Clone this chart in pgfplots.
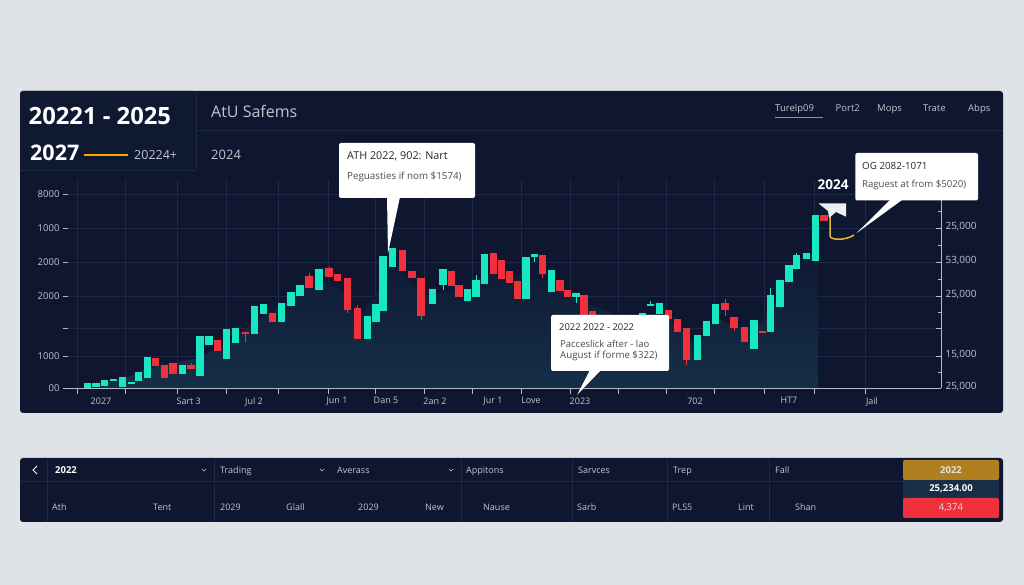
\documentclass[border=0pt]{standalone}
\usepackage{pgfplots}
\usepackage{pgfplotstable}
\pgfplotsset{compat=1.18}
\usepackage{fontspec}
\setmainfont{Open Sans}
\usetikzlibrary{calc}
\definecolor{page}{HTML}{DFE3E8}
\definecolor{panel}{HTML}{0E172F}
\definecolor{panelb}{HTML}{0F1932}
\definecolor{gridc}{HTML}{1E2A45}
\definecolor{axisc}{HTML}{B4BBC8}
\definecolor{upc}{HTML}{17E8C2}
\definecolor{downc}{HTML}{F0303A}
\definecolor{areac}{HTML}{162E48}
\definecolor{txt}{HTML}{BFC5D0}
\definecolor{goldc}{HTML}{B07F20}
\definecolor{yel}{HTML}{E6B93B}
% x, body low, body high, wick low, wick high
\pgfplotstableread{
x lo hi wl wh
87.3 0 5.3 0 5.3
96.0 0.7 4.7 0.7 4.7
104.7 2.3 8 2.3 8
113.7 6.7 9 6.7 9
122.7 1.3 10.7 1.3 10.7
131.3 4.3 6 4.3 6
138.3 7.3 16 7.3 16
147.3 10.3 31.3 10.3 31.3
182.3 14.3 22.7 14.3 22.7
200 12 51.7 12 51.7
209 43.3 52 43.3 52
226.7 29.3 58.7 29.3 58.7
235.7 45 59.7 45 59.7
254.3 53.7 82.3 53.7 82.3
263.3 74 84 74 84
281.7 66.3 85 66.3 85
291 82.3 96.3 82.3 96.3
300 91.7 103 91.7 103
319 97.7 119.3 97.7 119.3
367.3 49 71.7 49 71.7
376 65.7 83.7 65.7 83.7
383 76.7 132.3 76.7 132.3
392.3 121 139.7 121 139.7
432.3 84.3 98.7 84.3 98.7
443 103 118.7 98 118.7
467.3 86.7 99 86.7 99
476 90.7 108.3 90.7 113
484.7 104.3 134.3 104.3 134.3
526 89 131.3 89 131.3
534.3 131 133.7 126.3 133.7
551.3 96.3 118.3 96.3 118.3
576 90.7 94.7 85.3 94.7
642.3 60 74.7 60 74.7
650.7 81.7 83.7 81.7 87
659.3 73.7 85.3 73.7 85.3
697.3 28 53 28 53
706.7 51.7 66.7 51.7 66.7
715.7 64.3 84 64.3 84
754 39 68 39 68
770.7 56 93 56 99.7
780 80.7 108.3 80.7 108.3
789 106 123 106 123
796.7 118.7 132.7 118.7 135.3
806.7 128.7 135 128.7 135
815.3 127.3 172.7 127.3 172.7
}\upcandles
\pgfplotstableread{
x lo hi wl wh
155.7 21.7 29.7 21.7 29.7
164.3 10.3 22.7 10.3 22.7
173 13.7 25 13.7 25
191 19 23 19 24.5
217.7 37.3 47.7 37.3 47.7
245.3 53.7 56 46.3 56
272.3 65.7 74.7 65.7 74.7
309 100.3 111.7 100.3 114.7
329 111.3 120 111.3 121.3
337.7 106.7 113.7 106.7 113.7
347.3 78.3 110 74.7 110
357.3 49 80 49 83
402.7 117 137.7 117 137.7
412 110 116.7 110 116.7
421 71.7 110.3 68 110.3
451.3 102 117.3 102 117.3
459 91.3 103 91.3 103
493.3 114 134.7 114 134.7
501.7 109 128.3 109 128.3
509.7 105.3 117.3 105.3 117.3
517.3 89 106.7 89 106.7
542.7 114 133.3 110.3 133.3
560 96.7 108 96.7 108
567.7 90.7 97.7 90.7 97.7
584 72 92.7 72 92.7
592.3 63 77 63 77
668.7 68.7 78.3 68.7 78.3
677.7 56 69 56 69
686.7 28 59.7 23 59.7
725 78 84.7 72.3 88.7
734 60.3 71.3 57.3 71.3
744.7 45.7 60.7 45.7 60.7
762.7 55 57.3 55 57.3
824 167.3 173.3 167.3 173.3
}\downcandles
\pgfplotsset{candle/.style 2 args={draw=none,no marks,forget plot,
  error bars/.cd,y dir=plus,y explicit,error mark=none,error bar style={draw=#1,solid,line width=#2}}}
\begin{document}
\begin{tikzpicture}[x=1pt,y=1pt]
\fill[page] (0,0) rectangle (1024,585);
% panels
\fill[panel,rounded corners=3pt] (20,172) rectangle (1003,494);
\fill[panel,rounded corners=3pt] (20,63) rectangle (1003,127);
% header of the first panel
\fill[panelb,rounded corners=3pt] (20,414.5) rectangle (196,494);
\draw[gridc] (196,414.5) -- (196,494);
\draw[gridc] (20,414.5) -- (196,414.5);
\draw[gridc] (196,455) -- (1003,455);
\node[anchor=base west,inner sep=0,font=\fontsize{23.8}{28}\bfseries\selectfont,text=white] at (28.5,460.5) {20221 - 2025};
\node[anchor=base west,inner sep=0,font=\fontsize{21.5}{24}\bfseries\selectfont,text=white] at (30,424) {2027};
\draw[line width=1.4pt,color=orange!70!yellow] (84,430) -- (128,430);
\node[anchor=base west,inner sep=0,font=\fontsize{12.5}{14}\selectfont,text=txt] at (134,425.5) {20224+};
\node[anchor=base west,inner sep=0,font=\fontsize{16}{19}\selectfont,text=txt] at (211,467.5) {AtU Safems};
\node[anchor=base west,inner sep=0,font=\fontsize{13}{15}\selectfont,text=txt] at (211,425.5) {2024};
\foreach \xx/\tt in {775/Turelp09,835.5/Port2,877/Mops,923/Trate,968/Abps}
  \node[anchor=base west,inner sep=0,font=\fontsize{9.5}{11}\selectfont,text=txt] at (\xx,473.5) {\tt};
\draw[color=txt!60!red,line width=.6pt] (775,468) -- (823,468);
% chart
\begin{axis}[
  at={(63pt,197pt)},anchor=south west,
  scale only axis,width=878pt,height=208pt,
  xmin=63,xmax=941,ymin=0,ymax=208,
  clip=false,
  axis x line*=bottom,axis y line*=left,
  x axis line style={color=axisc,line width=.8pt,-},
  y axis line style={draw=none},
  tick style={color=axisc,line width=.7pt},
  xtick align=outside,ytick align=inside,
  major tick length=5pt,
  ytick={0,32,60,92,126,160,194},
  yticklabels={00,1000,,2000,2000,1000,8000},
  xtick={101,188.7,254,337,386,435,493,531,580,695,789,872},
  xticklabels={2027,Sart 3,Jul 2,Jun 1,Dan 5,2an 2,Jur 1,Love,2023,702,HT7,Jail},
  major x tick style={draw=none},
  minor xtick={77,125.7,177,226,278.7,328,375,424,472.7,521.7,570,618.7,666,714,764,814,865.7},
  minor tick length=6pt,
  minor tick style={color=axisc,line width=.7pt},
  xminorgrids=true,ymajorgrids=true,
  grid style={color=gridc,line width=.6pt},
  minor grid style={color=gridc,line width=.6pt},
  xticklabel style={font=\fontsize{9}{11}\selectfont,text=txt,yshift=-1pt},
  yticklabel style={font=\fontsize{9.5}{11}\selectfont,text=txt},
  /pgf/number format/assume math mode=true,
]
\addplot[draw=none,bottom color=areac,top color=panel,forget plot] coordinates {
(85,0)(85,2)(122,8)(147,20)(200,30)(226,45)(254,65)(291,90)(319,110)(347,95)(357,65)(383,105)(392,130)(421,92)(476,100)(485,120)(526,110)(551,108)(584,85)(640,65)(668,70)(697,40)(715,70)(754,55)(770,80)(796,125)(818,150)(818,0)} \closedcycle;
% wicks
\addplot[candle={upc}{.7pt}]
  table[x=x,y=wl,y error expr=\thisrow{wh}-\thisrow{wl}] {\upcandles};
\addplot[candle={downc}{.7pt}]
  table[x=x,y=wl,y error expr=\thisrow{wh}-\thisrow{wl}] {\downcandles};
% bodies
\addplot[candle={upc}{7.2pt}]
  table[x=x,y=lo,y error expr=\thisrow{hi}-\thisrow{lo}] {\upcandles};
\addplot[candle={downc}{7.2pt}]
  table[x=x,y=lo,y error expr=\thisrow{hi}-\thisrow{lo}] {\downcandles};
\end{axis}
\begin{axis}[
  at={(63pt,197pt)},anchor=south west,
  scale only axis,width=878pt,height=208pt,
  xmin=63,xmax=941,ymin=0,ymax=208,
  axis x line=none,axis y line*=right,
  axis line style={color=axisc,line width=.8pt},
  tick style={color=axisc,line width=.7pt},
  tick align=inside,
  major tick length=5pt,minor tick length=3pt,
  ytick={0,32,60,92,126,160,194},
  yticklabels={{25,000},{15,000},,{25,000},{53,000},{25,000},{25,000}},
  minor ytick={16,76,109,143,177},
  yticklabel style={font=\fontsize{10}{11}\selectfont,text=txt,xshift=1pt,yshift=1pt},
  /pgf/number format/assume math mode=true,
]
\addplot[draw=none,forget plot] coordinates {(63,0)(941,208)};
\end{axis}
% annotation lines
\draw[line width=1.5pt,color=yel] (830,368) -- (830,349) .. controls (830,345) and (845,344) .. (854,350);
\fill[page!60!white] (818.3,381.7) -- (846,381.7) -- (846,368.3) -- (836,373) -- (829,367) -- (828,374) -- cycle;
\node[anchor=base west,inner sep=0,font=\fontsize{13.5}{16}\bfseries\selectfont,text=white] at (817.5,395) {2024};
% callouts
\fill[white,rounded corners=2pt] (339,387) rectangle (475,442);
\fill[white] (387,388) -- (400,388) -- (388,332) -- cycle;
\node[anchor=base west,inner sep=0,font=\fontsize{10.8}{12}\selectfont,text=black!85] at (347,425) {ATH 2022, 902: Nart};
\node[anchor=base west,inner sep=0,font=\fontsize{9.8}{12}\selectfont,text=black!70] at (347,405.5) {Peguasties if nom \$1574)};
\fill[white,rounded corners=2pt] (551,214) rectangle (669,270);
\fill[white] (590,215) -- (601,215) -- (577,190) -- cycle;
\node[anchor=base west,inner sep=0,font=\fontsize{9.4}{11}\selectfont,text=black!85] at (559,254.5) {2022 2022 - 2022};
\node[anchor=base west,inner sep=0,font=\fontsize{9.5}{11}\selectfont,text=black!70] at (560,237.5) {Pacceslick after - lao};
\node[anchor=base west,inner sep=0,font=\fontsize{9.7}{11}\selectfont,text=black!70] at (560,226.5) {August if forme \$322)};
\fill[white,rounded corners=2pt] (855.3,384.5) rectangle (978,432);
\fill[white] (890,385) -- (902,385) -- (856.7,352) -- cycle;
\node[anchor=base west,inner sep=0,font=\fontsize{9.8}{11}\selectfont,text=black!85] at (862,415.5) {OG 2082-1071};
\node[anchor=base west,inner sep=0,font=\fontsize{9.6}{11}\selectfont,text=black!70] at (862,397.5) {Raguest at from \$5020)};
% bottom panel
\foreach \xx in {47,214,461,572,667,769}
  \draw[gridc] (\xx,63) -- (\xx,127);
\draw[gridc] (20,104) -- (903,104);
\draw[white,line width=1pt] (37,119) -- (33,115) -- (37,111);
\node[anchor=base west,inner sep=0,font=\fontsize{9.5}{11}\bfseries\selectfont,text=white] at (55,111.7) {2022};
\foreach \xx/\tt in {220/Trading,337/Averass,466/Appitons,578/Sarvces,673/Trep,775/Fall}
  \node[anchor=base west,inner sep=0,font=\fontsize{9}{11}\selectfont,text=txt] at (\xx,111.7) {\tt};
\foreach \xx in {204,322,451}
  \draw[txt,line width=.6pt] (\xx-2,116) -- (\xx,114) -- (\xx+2,116);
\foreach \xx/\tt in {52/Ath,153/Tent,220/2029,286/Glall,358/2029,425/New,483/Nause,577/Sarb,672/PLS5,738/Lint,795/Shan}
  \node[anchor=base west,inner sep=0,font=\fontsize{9}{11}\selectfont,text=txt] at (\xx,74.7) {\tt};
\fill[areac] (903,84) rectangle (999,106);
\fill[goldc,rounded corners=2pt] (903,105) rectangle (999,125);
\fill[downc,rounded corners=2pt] (903,67) rectangle (999,87);
\node[font=\fontsize{9.5}{11}\bfseries\selectfont,text=page] at (951,115) {2022};
\node[font=\fontsize{9.5}{11}\bfseries\selectfont,text=white] at (951,96) {25,234.00};
\node[font=\fontsize{9.5}{11}\selectfont,text=page] at (951,77) {4,374};
\useasboundingbox (0,0) rectangle (1024,585);
\end{tikzpicture}
\end{document}
